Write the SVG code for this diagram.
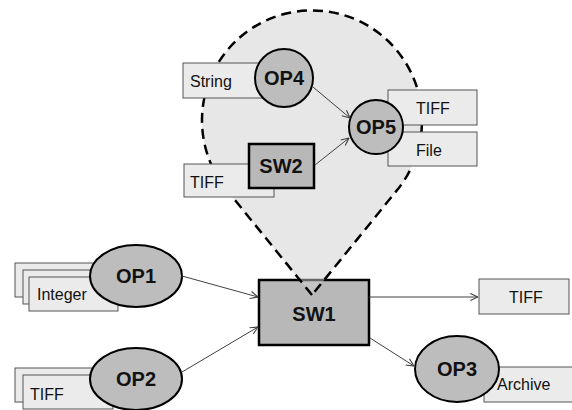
<svg xmlns="http://www.w3.org/2000/svg" width="572" height="410" viewBox="0 0 572 410">
<defs>
<marker id="arr" viewBox="0 0 10 10" refX="9.5" refY="5" markerWidth="9" markerHeight="9" markerUnits="userSpaceOnUse" orient="auto">
<path d="M1,1 L9.5,5 L1,9" fill="none" stroke="#404040" stroke-width="1.2"/>
</marker>
</defs>
<style>
.box{fill:#ebebeb;stroke:#555;stroke-width:1}
.op{fill:#bdbdbd;stroke:#000;stroke-width:2}
.sw{fill:#b8b8b8;stroke:#000;stroke-width:2.5}
.lbl{font-family:"Liberation Sans",Arial,sans-serif;font-size:16px;fill:#111}
.nl{font-family:"Liberation Sans",Arial,sans-serif;font-size:20px;font-weight:bold;fill:#111;text-anchor:middle}
.cn{fill:none;stroke:#404040;stroke-width:1;marker-end:url(#arr)}
</style>
<rect width="572" height="410" fill="#fff"/>
<g id="SW1">
<rect class="sw" x="259" y="280" width="110" height="65"/>
<text class="nl" x="314" y="321">SW1</text>
</g>
<g id="group">
<path d="M312,295 L226,189 A110,110 0 1 1 398,189 Z" fill="#d0d0d0" fill-opacity="0.5" stroke="#000" stroke-width="2.5" stroke-dasharray="10,6"/>
</g>
<g id="OP4">
<rect class="box" x="183" y="63" width="85" height="35"/>
<text class="lbl" x="190" y="87">String</text>
<circle class="op" cx="284" cy="78" r="29"/>
<text class="nl" x="284" y="85">OP4</text>
</g>
<g id="SW2">
<rect class="box" x="184" y="164" width="90" height="33"/>
<text class="lbl" x="190" y="188">TIFF</text>
<rect class="sw" x="249" y="144" width="65" height="44"/>
<text class="nl" x="281" y="173">SW2</text>
</g>
<g id="OP5">
<rect class="box" x="388" y="90" width="89" height="35"/>
<text class="lbl" x="416" y="114">TIFF</text>
<rect class="box" x="388" y="132" width="89" height="34"/>
<text class="lbl" x="416" y="156">File</text>
<circle class="op" cx="376" cy="127" r="27"/>
<text class="nl" x="376" y="134">OP5</text>
</g>
<g id="OP1">
<rect class="box" x="15" y="263" width="90" height="34"/>
<rect class="box" x="23" y="270" width="90" height="34"/>
<rect class="box" x="29" y="277" width="89" height="34"/>
<text class="lbl" x="37" y="300">Integer</text>
<ellipse class="op" cx="136" cy="276" rx="46" ry="31"/>
<text class="nl" x="136" y="283">OP1</text>
</g>
<g id="OP2">
<rect class="box" x="15" y="368" width="90" height="34"/>
<rect class="box" x="23" y="375" width="90" height="34"/>
<text class="lbl" x="30" y="400">TIFF</text>
<ellipse class="op" cx="136" cy="379" rx="46" ry="31"/>
<text class="nl" x="136" y="386">OP2</text>
</g>
<g id="TIFF_out">
<rect class="box" x="479" y="279" width="90" height="35"/>
<text class="lbl" x="509" y="303">TIFF</text>
</g>
<g id="OP3">
<rect class="box" x="484" y="367" width="92" height="35"/>
<ellipse class="op" cx="457" cy="369" rx="42" ry="33"/>
<text class="nl" x="457" y="376">OP3</text>
<text class="lbl" x="497" y="390">Archive</text>
</g>
<g id="connectors">
<line class="cn" x1="313" y1="87" x2="350" y2="118"/>
<line class="cn" x1="315" y1="165" x2="349" y2="138"/>
<line class="cn" x1="182" y1="276" x2="258" y2="297"/>
<line class="cn" x1="182" y1="372" x2="258" y2="327"/>
<line class="cn" x1="369" y1="297" x2="478" y2="297"/>
<line class="cn" x1="370" y1="338" x2="414" y2="366"/>
</g>
</svg>
